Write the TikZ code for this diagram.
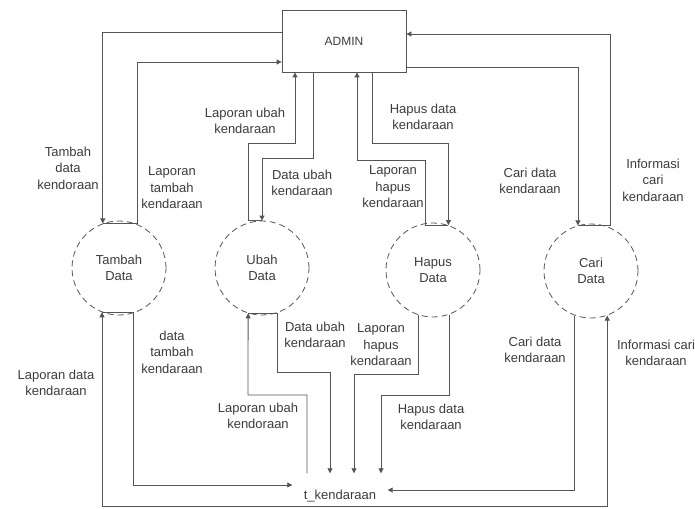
\documentclass[tikz,border=0pt]{standalone}
\usepackage{fontspec}
\setmainfont{Liberation Sans}
\usepackage{tikz}
\usetikzlibrary{arrows.meta, positioning, calc}
\definecolor{inkgray}{RGB}{60,60,60}
\definecolor{linegray}{RGB}{85,85,85}

\begin{document}
\begin{tikzpicture}[
    x=1pt, y=-1pt,
    >={Triangle[length=5pt, width=5pt]},
    entbox/.style={draw=linegray, line width=0.8pt, minimum width=124pt, minimum height=62pt, font=\fontsize{12}{15}\selectfont, text=inkgray},
    procnode/.style={draw=linegray, circle, dash pattern=on 6pt off 4pt, line width=0.8pt, minimum size=94pt, inner sep=0pt, align=center, font=\fontsize{13}{16}\selectfont, text=inkgray},
    storenode/.style={minimum width=95pt, minimum height=33pt, inner sep=0pt, text height=20pt, text depth=2pt, font=\fontsize{13}{16}\selectfont, text=inkgray},
    lbl/.style={align=center, inner sep=0pt, font=\fontsize{13}{16.5}\selectfont, text=inkgray},
    flow/.style={->, draw=linegray, line width=0.8pt},
]
    \useasboundingbox (0,0) rectangle (695,508);

    % External entity
    \node[entbox] (admin) at (344, 41) {ADMIN};

    % Processes
    \node[procnode] (tambah) at (119, 268) {Tambah\\Data};
    \node[procnode] (ubah) at (262, 268) {Ubah\\Data};
    \node[procnode] (hapus) at (433, 270) {Hapus\\Data};
    \node[procnode] (cari) at (591, 271) {Cari\\Data};

    % Data store
    \node[storenode] (kend) at (340, 490) {t\_kendaraan};

    % Flows with ADMIN
    \draw[flow] (admin.west |- 0,32) -| (tambah.110);
    \draw[flow] (tambah.110) -| (137,62) -- (admin.west |- 0,62);
    \draw[flow] (admin.south -| 313,0) |- (262,158) -- (ubah.north);
    \draw[flow] (ubah.north) -| (248,143) -| (admin.south -| 295,0);
    \draw[flow] (admin.south -| 372,0) |- (hapus.71 |- 0,143) -- (hapus.71);
    \draw[flow] (hapus.71) -| (425,160) -| (admin.south -| 357,0);
    \draw[flow] (admin.east |- 0,67) -| (cari.106);
    \draw[flow] (cari.106) -| (610,34) -- (admin.east |- 0,34);

    % Flows with t_kendaraan
    \draw[flow] (kend.south) -| (tambah.249);
    \draw[flow] (tambah.249) -| (133,485) -- (kend.west |- 0,485);
    \draw[flow] (kend.north -| 307,0) |- (248,395) -- (ubah.253);
    \draw[flow] (ubah.253) -| (277,372) -| (kend.north -| 330,0);
    \draw[flow] (hapus.252) |- (354,374) -- (kend.north -| 354,0);
    \draw[flow] (hapus.290) |- (381,395) -- (kend.north -| 381,0);
    \draw[flow] (cari.250) |- (kend.east);
    \draw[flow] (kend.south) -| (cari.290);

    % Labels
    \node[lbl] at (68, 168) {Tambah\\data\\kendoraan};
    \node[lbl] at (172, 188) {Laporan\\tambah\\kendaraan};
    \node[lbl] at (245, 121) {Laporan ubah\\kendaraan};
    \node[lbl] at (302, 183) {Data ubah\\kendaraan};
    \node[lbl] at (423, 117) {Hapus data\\kendaraan};
    \node[lbl] at (393, 187) {Laporan\\hapus\\kendaraan};
    \node[lbl] at (530, 181) {Cari data\\kendaraan};
    \node[lbl] at (653, 180) {Informasi\\cari\\kendaraan};
    \node[lbl] at (56, 383) {Laporan data\\kendaraan};
    \node[lbl] at (172, 352) {data\\tambah\\kendaraan};
    \node[lbl] at (315, 335) {Data ubah\\kendaraan};
    \node[lbl] at (381, 345) {Laporan\\hapus\\kendaraan};
    \node[lbl] at (258, 416) {Laporan ubah\\kendoraan};
    \node[lbl] at (431, 417) {Hapus data\\kendaraan};
    \node[lbl] at (535, 350) {Cari data\\kendaraan};
    \node[lbl] at (656, 353) {Informasi cari\\kendaraan};
\end{tikzpicture}
\end{document}
